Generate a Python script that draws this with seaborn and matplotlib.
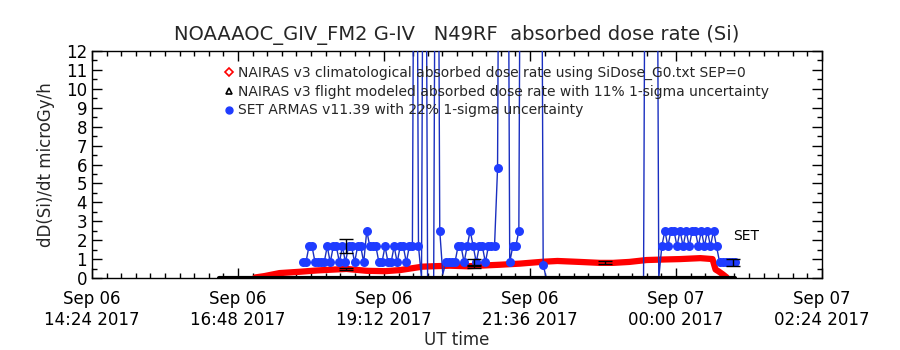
import numpy as np
import pandas as pd
import matplotlib
matplotlib.use("Agg")
import matplotlib.pyplot as plt
import matplotlib.dates as mdates
from matplotlib.lines import Line2D
from matplotlib.ticker import FixedLocator, MultipleLocator
import seaborn as sns

# ---------------- data ----------------
title = "NOAAAOC_GIV_FM2 G-IV   N49RF  absorbed dose rate (Si)"
y_label = "dD(Si)/dt microGy/h"
x_label = "UT time"
legend_labels = [
    "NAIRAS v3 climatological absorbed dose rate using SiDose_G0.txt SEP=0",
    "NAIRAS v3 flight modeled absorbed dose rate with 11% 1-sigma uncertainty",
    "SET ARMAS v11.39 with 22% 1-sigma uncertainty",
]
x_tick_times = ["2017-09-06 14:24", "2017-09-06 16:48", "2017-09-06 19:12",
                "2017-09-06 21:36", "2017-09-07 00:00", "2017-09-07 02:24"]
x_tick_labels = ["Sep 06\n14:24 2017", "Sep 06\n16:48 2017", "Sep 06\n19:12 2017",
                 "Sep 06\n21:36 2017", "Sep 07\n00:00 2017", "Sep 07\n02:24 2017"]
y_ticks = [0, 1, 2, 3, 4, 5, 6, 7, 8, 9, 10, 11, 12]

# NAIRAS climatological (red)
red_times = ["2017-09-06 17:05", "2017-09-06 17:14", "2017-09-06 17:29", "2017-09-06 17:49",
             "2017-09-06 18:06", "2017-09-06 18:35", "2017-09-06 18:55", "2017-09-06 19:13",
             "2017-09-06 19:28", "2017-09-06 19:50", "2017-09-06 20:00", "2017-09-06 20:17",
             "2017-09-06 20:34", "2017-09-06 21:06", "2017-09-06 21:26", "2017-09-06 21:49",
             "2017-09-06 22:03", "2017-09-06 22:25", "2017-09-06 22:45", "2017-09-06 22:58",
             "2017-09-06 23:14", "2017-09-06 23:31", "2017-09-06 23:49", "2017-09-07 00:04",
             "2017-09-07 00:24", "2017-09-07 00:36", "2017-09-07 00:39", "2017-09-07 00:42",
             "2017-09-07 00:46", "2017-09-07 00:50"]
red_values = [0.03, 0.10, 0.26, 0.33, 0.40, 0.48, 0.38, 0.36, 0.42, 0.60, 0.62, 0.65,
              0.62, 0.70, 0.76, 0.86, 0.90, 0.85, 0.80, 0.80, 0.85, 0.95, 0.98, 1.00,
              1.05, 1.00, 0.45, 0.35, 0.20, 0.03]

# NAIRAS flight modeled (black)
black_times = ["2017-09-06 16:29", "2017-09-06 20:00", "2017-09-07 00:58"]
black_values = [0.0, 0.0, 0.0]

# SET ARMAS (blue), 3-minute cadence segments
L, M, H = 0.83, 1.67, 2.5
set_seg1_start = "2017-09-06 17:52"
set_seg1_values = [L, L, M, M, L, L, L, L, M, L,
                   M, M, L, M, L, M, M, L, M, M,
                   L, H, M, M, M, L, L, M, L, L,
                   M, L, M, M, L, M, M, 40.0, M, 0.0,
                   40.0, 0.0, 0.0, 0.0, 40.0, H, 0.2, L, L, L,
                   L, M, M, L, M, H, M, L, M, M,
                   L, M, M, M, 5.8, 40.0, 40.0, 40.0, L, M,
                   M, H, 40.0, 40.0, 40.0, 40.0, 40.0, 40.0, 40.0, 0.7,
                   0.0]
set_gap_times = ["2017-09-06 21:55", "2017-09-06 23:28"]
set_gap_values = [0.0, 0.0]
set_seg2_start = "2017-09-06 23:31"
set_seg2_values = [40.0, 40.0, 40.0, 40.0, 0.0, M, H, M, H, H,
                   M, H, M, H, M, H, H, M, H, M,
                   H, M, H, M, L, L, L, L, L, L]
set_cadence = "3min"

# error bars
set_err_times = ["2017-09-06 18:35", "2017-09-06 20:41", "2017-09-07 00:56"]
set_err_values = [M, L, L]
set_err_frac = 0.22
red_err_times = ["2017-09-06 18:35", "2017-09-06 20:41", "2017-09-06 22:50"]
red_err_values = [0.46, 0.62, 0.82]
red_err_frac = 0.11

set_text = "SET"
set_text_time = "2017-09-07 00:56"
set_text_value = 2.2

# ---------------- build frames ----------------
red_df = pd.DataFrame({"time": pd.to_datetime(red_times), "dose": red_values})
black_df = pd.DataFrame({"time": pd.to_datetime(black_times), "dose": black_values})
t1 = pd.date_range(set_seg1_start, periods=len(set_seg1_values), freq=set_cadence)
t2 = pd.date_range(set_seg2_start, periods=len(set_seg2_values), freq=set_cadence)
set_df = pd.DataFrame({
    "time": list(t1) + list(pd.to_datetime(set_gap_times)) + list(t2),
    "dose": set_seg1_values + set_gap_values + set_seg2_values,
}).sort_values("time")

# ---------------- plot ----------------
sns.set_style("ticks")
plt.rcParams["font.family"] = ["DejaVu Sans"]

fig = plt.figure(figsize=(9, 3.5), dpi=100)
ax = fig.add_axes([92 / 900, 1 - 278 / 350, 730 / 900, 227 / 350])

blue = "#1f3cff"
blue_line = "#1a2fc0"

sns.lineplot(data=red_df, x="time", y="dose", color="#ff0000", lw=4.5,
             sort=False, estimator=None, ax=ax, zorder=2)
sns.lineplot(data=set_df, x="time", y="dose", color=blue_line, lw=1.0,
             sort=False, estimator=None, ax=ax, zorder=3)
sns.scatterplot(data=set_df[set_df["dose"] > 0.3], x="time", y="dose", color=blue,
                s=42, marker="o", linewidth=0, ax=ax, zorder=4)
sns.lineplot(data=black_df, x="time", y="dose", color="black", lw=3,
             sort=False, estimator=None, ax=ax, zorder=5)

se_t = pd.to_datetime(set_err_times)
ax.errorbar(se_t, set_err_values, yerr=[v * set_err_frac for v in set_err_values],
            fmt="none", ecolor="black", elinewidth=1, capsize=5, capthick=1, zorder=6)
re_t = pd.to_datetime(red_err_times)
ax.errorbar(re_t, red_err_values, yerr=[v * red_err_frac for v in red_err_values],
            fmt="none", ecolor="black", elinewidth=1, capsize=5, capthick=1, zorder=6)

ax.text(pd.Timestamp(set_text_time), set_text_value, set_text, fontsize=10,
        ha="left", va="center", color="black")

# axes
xt = pd.to_datetime(x_tick_times)
ax.set_xlim(xt[0], xt[-1])
ax.set_ylim(0, 12)
ax.xaxis.set_major_locator(FixedLocator(mdates.date2num(xt)))
ax.set_xticklabels(x_tick_labels)
minor_t = pd.date_range(xt[0], xt[-1], freq="864s")
ax.xaxis.set_minor_locator(FixedLocator(mdates.date2num(minor_t)))
ax.set_yticks(y_ticks)
ax.yaxis.set_minor_locator(MultipleLocator(0.5))

ax.tick_params(axis="both", which="both", direction="in", top=True, right=True,
               colors="black", width=1)
ax.tick_params(axis="both", which="major", length=7, labelsize=12)
ax.tick_params(axis="both", which="minor", length=3.5)
ax.tick_params(axis="x", which="major", pad=9)
for s in ax.spines.values():
    s.set_color("black")
    s.set_linewidth(1)

ax.set_xlabel(x_label, fontsize=12, labelpad=1)
ax.set_ylabel(y_label, fontsize=12, labelpad=8)
ax.set_title(title, fontsize=14, pad=8)

handles = [
    Line2D([], [], marker="D", ms=4, mfc="white", mec="red", mew=1.2, ls="none"),
    Line2D([], [], marker="^", ms=5, mfc="white", mec="black", mew=1.2, ls="none"),
    Line2D([], [], marker="o", ms=5, mfc=blue, mec=blue, ls="none"),
]
ax.legend(handles, legend_labels, loc="upper left", bbox_to_anchor=(0.175, 0.96),
          frameon=False, fontsize=10, handlelength=0.6, handletextpad=0.3,
          labelspacing=0.35, borderaxespad=0)

fig.savefig("out.png", dpi=100, facecolor="white")
